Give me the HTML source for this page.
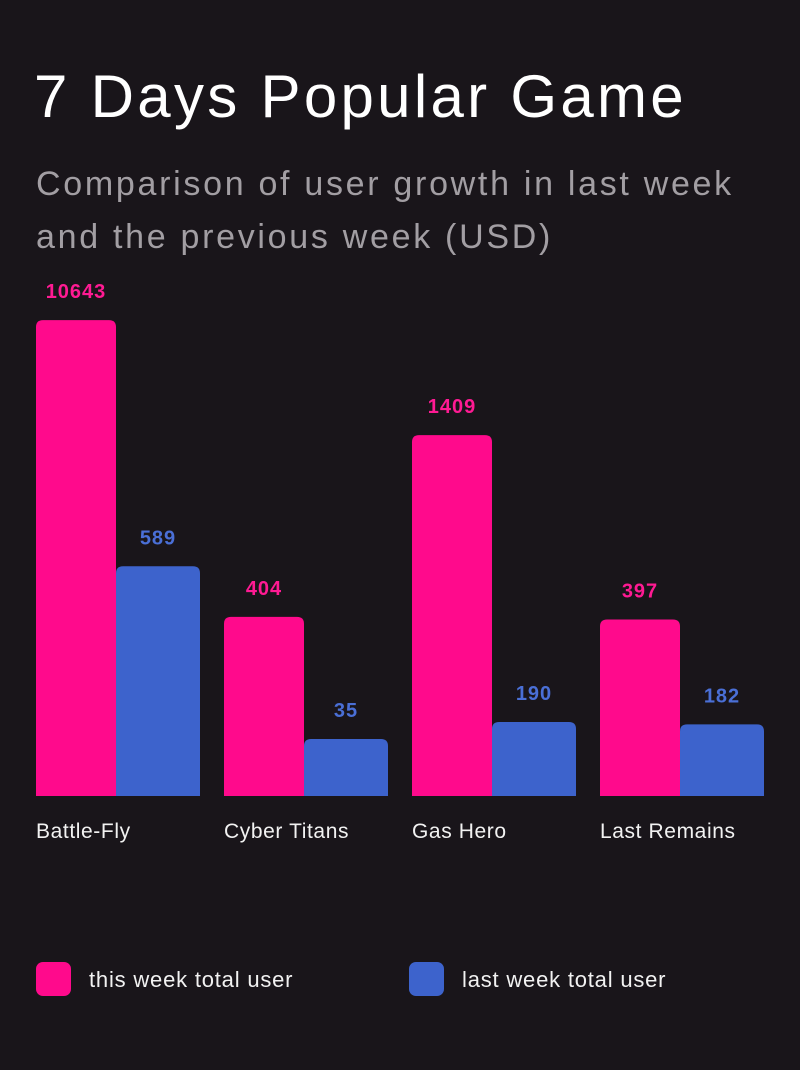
<!DOCTYPE html>
<html><head><meta charset="utf-8"><style>
html,body{margin:0;padding:0;background:#19151a;}
body{width:800px;height:1070px;position:relative;overflow:hidden;font-family:"Liberation Sans",sans-serif;color:#fff;}
#title{position:absolute;left:34px;top:62px;font-size:60px;font-weight:400;letter-spacing:3.3px;margin:0;white-space:nowrap;}
#sub{position:absolute;left:36px;top:158px;font-size:34px;line-height:53px;color:#a29ea3;width:760px;letter-spacing:2.7px;margin:0;white-space:nowrap;}
svg{position:absolute;left:0;top:0;}
</style></head><body>
<h1 id="title">7 Days Popular Game</h1>
<p id="sub">Comparison of user growth in last week<br>and the previous week (USD)</p>
<svg id="chart" width="800" height="1070"></svg>
<script>
const categories=["Battle-Fly","Cyber Titans","Gas Hero","Last Remains"];
const thisWeek=[10643,404,1409,397];
const lastWeek=[589,35,190,182];
const seriesNames=["this week total user","last week total user"];
const NS="http://www.w3.org/2000/svg";
const svg=document.getElementById("chart");
const baseY=796, groupX0=36, groupStep=188, pinkW=80, blueW=84;
// polylinear value axis (chart uses a compressed scale)
const dom=[0,35,186,400,590,1410,10650], rng=[0,57,72,178,230,361,476];
function yScale(v){
  let h;
  if(v>=dom[dom.length-1]) h=rng[rng.length-1]*v/dom[dom.length-1];
  else for(let i=1;i<dom.length;i++){ if(v<=dom[i]){h=rng[i-1]+(v-dom[i-1])/(dom[i]-dom[i-1])*(rng[i]-rng[i-1]);break;} }
  return baseY-h;
}
function bar(x,w,v,color,name){
  const y=yScale(v),h=baseY-y,r=7;
  const p=document.createElementNS(NS,"path");
  p.setAttribute("d",`M${x},${baseY}V${y+r}Q${x},${y} ${x+r},${y}H${x+w-r}Q${x+w},${y} ${x+w},${y+r}V${baseY}Z`);
  p.setAttribute("fill",color);
  
  
  svg.appendChild(p);
  const t=document.createElementNS(NS,"text");
  t.setAttribute("x",x+w/2);t.setAttribute("y",y-22);
  t.setAttribute("text-anchor","middle");t.setAttribute("fill",color==="#ff0a8c"?"#ff1a93":"#4a6fd6");
  t.setAttribute("font-size","20");t.setAttribute("font-weight","bold");t.setAttribute("letter-spacing","1");t.setAttribute("font-family","Liberation Sans, sans-serif");
  t.textContent=v;
  
  
  svg.appendChild(t);
}
categories.forEach((c,i)=>{
  const gx=groupX0+i*groupStep;
  bar(gx,pinkW,thisWeek[i],"#ff0a8c","bar-this-week-"+i);
  bar(gx+pinkW,blueW,lastWeek[i],"#3d63cc","bar-last-week-"+i);
  const t=document.createElementNS(NS,"text");
  t.setAttribute("x",gx);t.setAttribute("y",838);t.setAttribute("fill","#f2f2f2");
  t.setAttribute("font-size","21");t.setAttribute("letter-spacing","0.6");t.setAttribute("font-family","Liberation Sans, sans-serif");
  t.textContent=c;
  
  
  svg.appendChild(t);
});
const legendX=[36,409],legendC=["#ff0a8c","#3d63cc"];
seriesNames.forEach((s,i)=>{
  const r=document.createElementNS(NS,"rect");
  r.setAttribute("x",legendX[i]);r.setAttribute("y",962);r.setAttribute("width",35);r.setAttribute("height",34);
  r.setAttribute("rx",7);r.setAttribute("fill",legendC[i]);
  
  
  svg.appendChild(r);
  const t=document.createElementNS(NS,"text");
  t.setAttribute("x",legendX[i]+53);t.setAttribute("y",987);t.setAttribute("fill","#f2f2f2");
  t.setAttribute("font-size","22");t.setAttribute("letter-spacing","0.8");t.setAttribute("font-family","Liberation Sans, sans-serif");
  t.textContent=s;
  
  
  svg.appendChild(t);
});
</script>
</body></html>
